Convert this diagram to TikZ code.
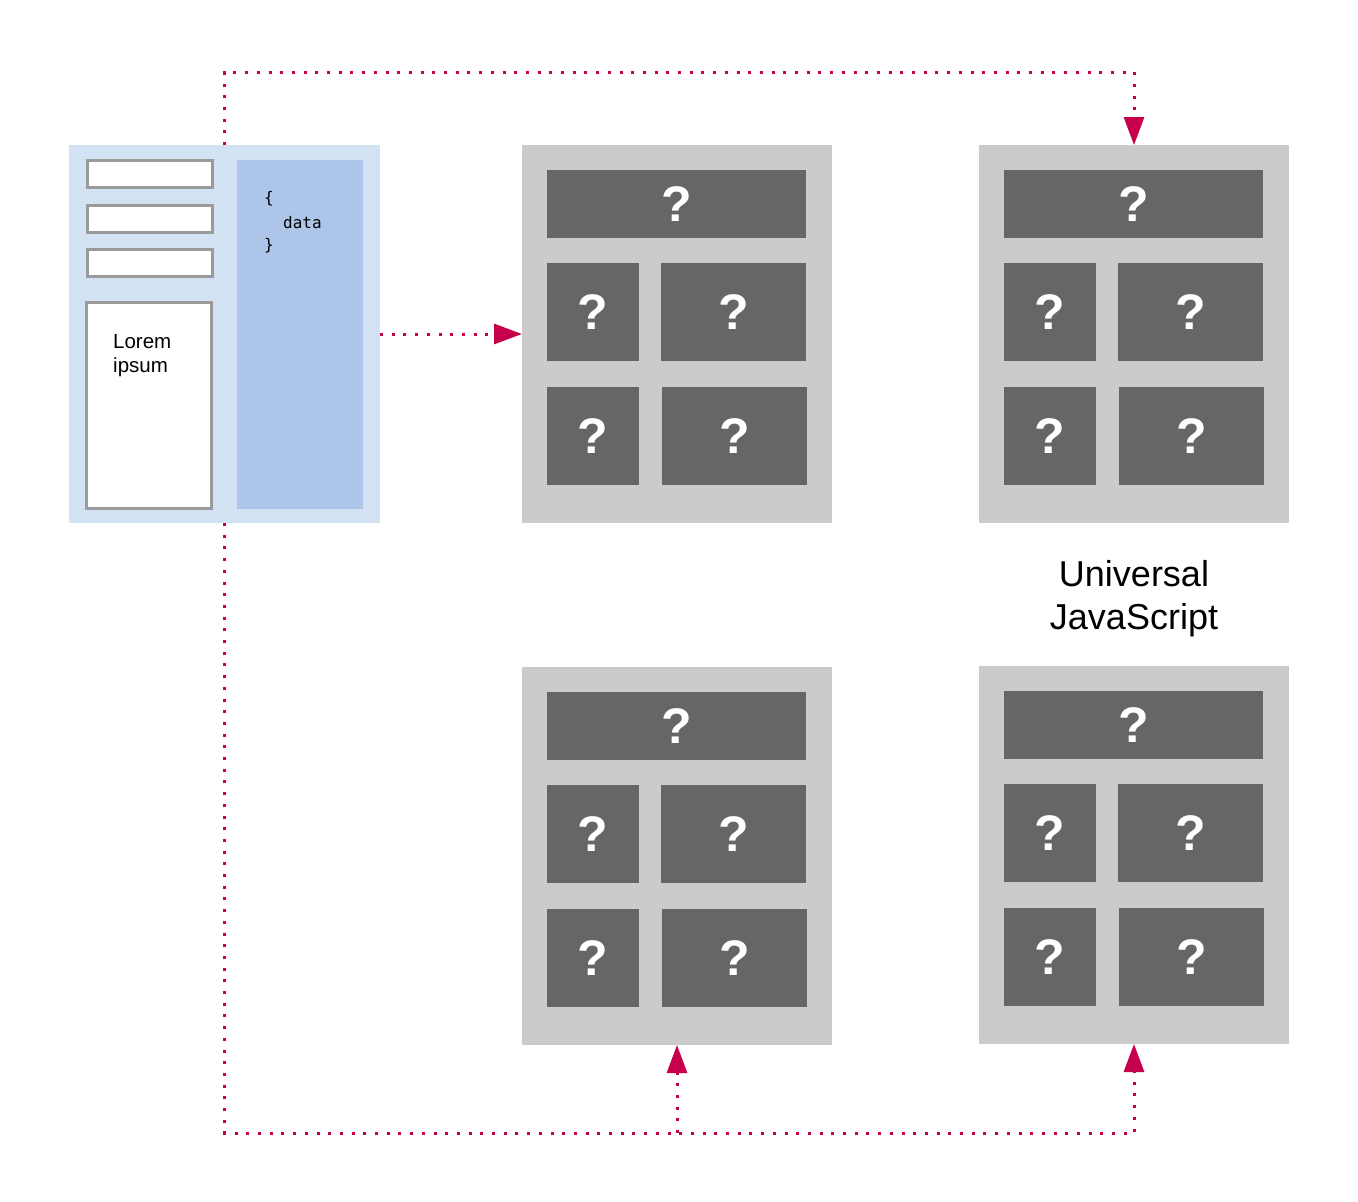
\documentclass[tikz,border=0pt]{standalone}
\usepackage{fontspec}
\setmainfont{Liberation Sans}
\newfontfamily\monof{DejaVu Sans Mono}
\usetikzlibrary{arrows.meta}
\definecolor{crim}{HTML}{C7004C}
\definecolor{panelgray}{HTML}{CBCBCB}
\definecolor{tilegray}{HTML}{666666}
\definecolor{lblue}{HTML}{D3E2F3}
\definecolor{mblue}{HTML}{ADC5E9}
\definecolor{bordergray}{HTML}{9A9A9A}
\newcommand\uipanel[3]{%
  \node[gpanel] (#1) at (#2,#3) {};
  \node[tile, minimum width=259pt, minimum height=68pt] (#1-a) at (#2+25,#3+25) {?};
  \node[tile, minimum width=92pt, minimum height=98pt] (#1-b) at (#2+25,#3+118) {?};
  \node[tile, minimum width=145pt, minimum height=98pt] (#1-c) at (#2+139,#3+118) {?};
  \node[tile, minimum width=92pt, minimum height=98pt] (#1-d) at (#2+25,#3+242) {?};
  \node[tile, minimum width=145pt, minimum height=98pt] (#1-e) at (#2+140,#3+242) {?};
}
\begin{document}
\begin{tikzpicture}[x=1pt,y=-1pt,
  box/.style={anchor=north west, inner sep=0pt, outer sep=0pt},
  gpanel/.style={box, fill=panelgray, minimum width=310pt, minimum height=378pt},
  tile/.style={box, fill=tilegray, text=white, font=\fontsize{50}{50}\selectfont\bfseries},
  wbox/.style={box, fill=white, draw=bordergray, line width=3pt},
  codetext/.style={anchor=west, inner sep=0pt, font=\monof\fontsize{16}{18}\selectfont},
  lorem/.style={anchor=base west, inner sep=0pt, font=\fontsize{20.5}{24}\selectfont},
  conn/.style={crim, line width=3pt, dash pattern=on 3pt off 8.7pt,
    -{Triangle[length=28pt,width=20pt]}}]
\useasboundingbox[fill=white] (0,0) rectangle (1358,1202);

% left panel
\node[box, fill=lblue, minimum width=311pt, minimum height=378pt] (lp) at (69,145) {};
\node[box, fill=mblue, minimum width=126pt, minimum height=349pt] (code) at (237,160) {};
\node[wbox, minimum width=125pt, minimum height=27pt] (f1) at (87.5,160.5) {};
\node[wbox, minimum width=125pt, minimum height=27pt] (f2) at (87.5,205.5) {};
\node[wbox, minimum width=125pt, minimum height=27pt] (f3) at (87.5,249.5) {};
\node[wbox, minimum width=125pt, minimum height=206pt] (f4) at (86.5,302.5) {};
\node[codetext] (c1) at (264,199) {\{};
\node[codetext] (c2) at (283,223) {data};
\node[codetext] (c3) at (264,246) {\}};
\node[lorem] (l1) at (113,348) {Lorem};
\node[lorem] (l2) at (113,372) {ipsum};

% gray panels
\uipanel{tm}{522}{145}
\uipanel{tr}{979}{145}
\uipanel{bm}{522}{667}
\uipanel{br}{979}{666}

\node[align=center, inner sep=0pt, font=\fontsize{36}{43}\selectfont] (uj) at (1134,598.5) {Universal\\JavaScript};

% connectors
\coordinate (tc) at (224.5,72);
\coordinate (bc) at (224.5,1133);
\coordinate (bj) at (677,1133);
\draw[conn] (lp.north) -- (tc) -| (tr.north);
\draw[conn] (lp.east) -- (tm.west);
\draw[conn] (lp.south) -- (bc) -| (br.south);
\draw[conn] (bj) -- (bm.south);
\end{tikzpicture}
\end{document}
